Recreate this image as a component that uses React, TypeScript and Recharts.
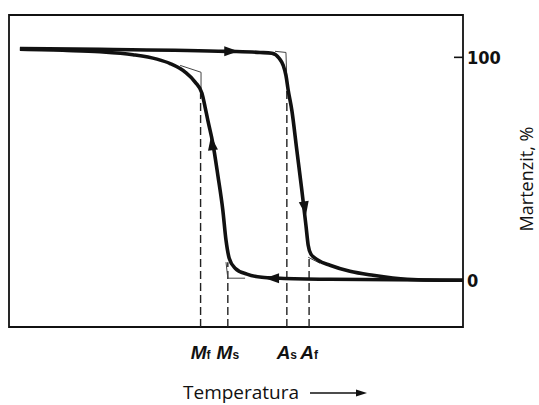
import React from 'react';
import { ComposedChart, Line, Scatter, XAxis, YAxis, ReferenceArea } from 'recharts';

// temperature in arbitrary units (0..100), martensite in %
const coolingT = [2.4, 12.8, 20.0, 27.3, 32.6, 35.5, 38.8, 41.0, 42.5, 43.2, 43.8, 44.9, 46.0, 47.1, 47.8, 48.5, 49.8, 52.4, 55.7, 59.7, 70.7, 100];
const coolingM = [103.6, 103.1, 102.5, 101.2, 99.2, 97.2, 93.4, 88.9, 83.9, 77.6, 71.7, 61.4, 47.1, 31.4, 17.9, 9.9, 5.4, 2.7, 1.3, 0.9, 0.4, 0];

const heatingT = [2.4, 20.0, 48.0, 55.3, 57.9, 59.5, 60.4, 61.0, 61.5, 62.3, 63.4, 64.5, 65.4, 65.9, 66.5, 68.1, 70.7, 75.1, 80.2, 87.7, 94.9, 100];
const heatingM = [104, 103.6, 102.7, 102.2, 101.8, 99.6, 96.4, 91.9, 85.2, 76.2, 58.3, 40.4, 24.7, 15.7, 11.7, 9.0, 6.7, 4.0, 2.2, 0.4, 0, 0];

// transformation temperatures Mf, Ms, As, Af
const markerT = [42.2, 48.2, 61.2, 66.1];
const markerTop = [83.9, 8.1, 89.7, 10.3];
const markerLetter = ['M', 'M', 'A', 'A'];
const markerSub = ['f', 's', 's', 'f'];

// thin tangent construction lines
const guideT = [
  [37.7, 42.3, 42.3],
  [47.8, 48.2, 52.0],
  [58.6, 61.0, 61.2],
  [65.9, 68.5],
];
const guideM = [
  [96.4, 93.3, 83.9],
  [8.1, 0.9, 0.9],
  [102.7, 102.2, 89.7],
  [10.3, 7.6],
];

// direction arrows on the loop (tip position, heading in degrees)
const arrowT = [50.5, 44.5, 65.4, 56.4];
const arrowM = [102.7, 64.6, 29.1, 0.9];
const arrowDeg = [0, -98, 81, 180];

const yTicks = [0, 100];
const Y_MIN = -21;
const Y_MAX = 119;

const zip = (xs: number[], ys: number[]) => xs.map((x, i) => ({ x, y: ys[i] }));
const cooling = zip(coolingT, coolingM);
const heating = zip(heatingT, heatingM);
const arrows = arrowT.map((x, i) => ({ x, y: arrowM[i], deg: arrowDeg[i] }));

const INK = '#111';

function Arrow(props: any) {
  const { cx, cy, payload } = props;
  if (cx == null || cy == null) return null;
  return (
    <polygon
      points="0,0 -14,-5 -14,5"
      fill={INK}
      transform={`translate(${cx},${cy}) rotate(${payload.deg})`}
    />
  );
}

function XTick(props: any) {
  const { x, y, payload } = props;
  const i = markerT.indexOf(payload.value);
  return (
    <text x={x} y={y + 32} textAnchor="middle" fill={INK} fontFamily="'Liberation Sans', Arial, sans-serif" fontWeight="bold">
      <tspan fontSize={19} fontStyle="italic">{markerLetter[i]}</tspan>
      <tspan fontSize={12}>{markerSub[i]}</tspan>
    </text>
  );
}

function YTick(props: any) {
  const { x, y, payload } = props;
  return (
    <g>
      <line x1={x - 9} x2={x} y1={y} y2={y} stroke={INK} strokeWidth={1.6} />
      <text x={x + 4} y={y + 7} fill={INK} fontSize={18} fontWeight="bold" fontFamily="'Liberation Sans Narrow', 'DejaVu Sans Condensed', sans-serif">
        {payload.value}
      </text>
    </g>
  );
}

function TempLabel(props: any) {
  const { viewBox } = props;
  const y = viewBox.y + 72;
  return (
    <g>
      <text x={183} y={y} fill={INK} fontSize={19} fontFamily="'Open Sans', sans-serif">Temperatura</text>
      <line x1={310} x2={358} y1={y - 6} y2={y - 6} stroke={INK} strokeWidth={1.5} />
      <polygon points={`${367},${y - 6} ${356},${y - 9.5} ${356},${y - 2.5}`} fill={INK} />
    </g>
  );
}

function MLabel(props: any) {
  const { viewBox } = props;
  const cx = viewBox.x + 63;
  const cy = viewBox.y + viewBox.height / 2 + 8;
  return (
    <text x={cx} y={cy} transform={`rotate(-90 ${cx} ${cy})`} textAnchor="middle" dominantBaseline="central" fill={INK} fontSize={18} fontFamily="'Open Sans', sans-serif">
      Martenzit, %
    </text>
  );
}

export default function App() {
  return (
    <div style={{ position: 'absolute', left: 0, top: 0, width: 539, height: 405, background: '#fff' }}>
      <ComposedChart width={539} height={405} margin={{ top: 15, left: 9, right: 0, bottom: 0 }}>
        <XAxis
          type="number"
          dataKey="x"
          domain={[0, 100]}
          ticks={markerT}
          interval={0}
          tick={<XTick />}
          tickSize={0}
          tickMargin={0}
          axisLine={false}
          tickLine={false}
          height={78}
          allowDataOverflow
          label={<TempLabel />}
        />
        <YAxis
          type="number"
          dataKey="y"
          orientation="right"
          domain={[Y_MIN, Y_MAX]}
          ticks={yTicks}
          interval={0}
          tick={<YTick />}
          tickSize={0}
          tickMargin={0}
          axisLine={false}
          tickLine={false}
          width={76}
          allowDataOverflow
          label={<MLabel />}
        />
        <ReferenceArea x1={0} x2={100} y1={Y_MIN} y2={Y_MAX} fill="none" stroke={INK} strokeWidth={1.8} ifOverflow="visible" />
        {markerT.map((t, i) => (
          <Line
            key={`m${i}`}
            data={[{ x: t, y: Y_MIN }, { x: t, y: markerTop[i] }]}
            dataKey="y"
            stroke="#222"
            strokeWidth={1.4}
            strokeDasharray="8 4"
            dot={false}
            activeDot={false}
            isAnimationActive={false}
          />
        ))}
        {guideT.map((ts, i) => (
          <Line
            key={`g${i}`}
            data={zip(ts, guideM[i])}
            dataKey="y"
            type="linear"
            stroke="#444"
            strokeWidth={1}
            dot={false}
            activeDot={false}
            isAnimationActive={false}
          />
        ))}
        <Line data={heating} dataKey="y" type="monotone" stroke={INK} strokeWidth={3.6} dot={false} activeDot={false} isAnimationActive={false} />
        <Line data={cooling} dataKey="y" type="monotone" stroke={INK} strokeWidth={3.6} dot={false} activeDot={false} isAnimationActive={false} />
        <Scatter data={arrows} dataKey="y" shape={<Arrow />} isAnimationActive={false} />
      </ComposedChart>
    </div>
  );
}
